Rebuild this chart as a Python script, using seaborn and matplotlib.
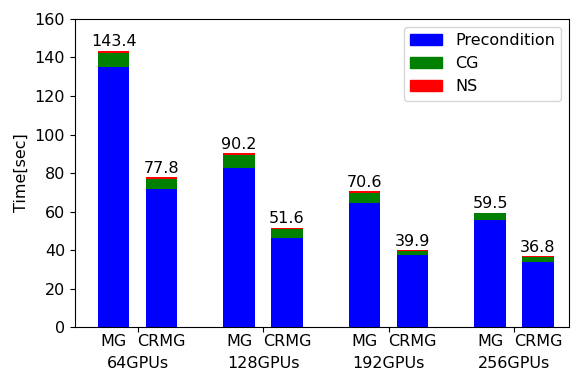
import matplotlib
matplotlib.use("Agg")
import matplotlib.pyplot as plt
from matplotlib.patches import Patch
import seaborn as sns
import pandas as pd
import numpy as np

# Execution time breakdown per solver and GPU count
groups = ["64GPUs", "128GPUs", "192GPUs", "256GPUs"]
methods = ["MG", "CRMG"]
precondition_mg = [135.3, 82.4, 64.6, 55.6]
cg_mg = [7.0, 7.0, 5.2, 3.5]
ns_mg = [1.1, 0.8, 0.8, 0.4]
precondition_crmg = [71.5, 46.1, 37.3, 33.7]
cg_crmg = [5.5, 4.9, 2.4, 2.8]
ns_crmg = [0.8, 0.6, 0.2, 0.3]
totals_mg = [143.4, 90.2, 70.6, 59.5]
totals_crmg = [77.8, 51.6, 39.9, 36.8]

rows = []
for i, g in enumerate(groups):
    rows.append(dict(group=g, method="MG", pre=precondition_mg[i], cg=cg_mg[i],
                     ns=ns_mg[i], total=totals_mg[i]))
    rows.append(dict(group=g, method="CRMG", pre=precondition_crmg[i], cg=cg_crmg[i],
                     ns=ns_crmg[i], total=totals_crmg[i]))
df = pd.DataFrame(rows)
df["pre_cg"] = df["pre"] + df["cg"]

plt.rcParams["font.family"] = ["DejaVu Sans"]
plt.rcParams["font.size"] = 11.5

fig = plt.figure(figsize=(5.71, 3.71), dpi=100)
ax = fig.add_axes([0.131, 0.118, 0.866, 0.831])

layers = [("total", "red"), ("pre_cg", "green"), ("pre", "blue")]
for col, color in layers:
    sns.barplot(data=df, x="group", y=col, hue="method", hue_order=methods,
                order=groups, palette=[color, color], width=0.76, gap=0.34,
                saturation=1, linewidth=0, errorbar=None, legend=False, ax=ax)

# Value labels above each stacked bar
offset = 0.19
for i in range(len(groups)):
    ax.text(i - offset, totals_mg[i] + 0.8, f"{totals_mg[i]:.1f}",
            ha="center", va="bottom", fontsize=11.5)
    ax.text(i + offset, totals_crmg[i] + 0.8, f"{totals_crmg[i]:.1f}",
            ha="center", va="bottom", fontsize=11.5)

ax.set_ylim(0, 160)
ax.set_xlim(-0.5, 3.44)
ax.set_yticks(np.arange(0, 161, 20))
ax.set_ylabel("Time[sec]", fontsize=11.5)
ax.set_xlabel("")

# Group labels on major ticks, method labels on minor ticks
ax.set_xticks(range(len(groups)))
ax.set_xticklabels(groups)
minor_pos = []
minor_lab = []
for i in range(len(groups)):
    minor_pos += [i - offset, i + offset]
    minor_lab += methods
ax.set_xticks(minor_pos, minor=True)
ax.set_xticklabels(minor_lab, minor=True)
ax.tick_params(axis="x", which="major", pad=17.5, labelsize=11.5)
ax.tick_params(axis="x", which="minor", length=0, pad=5, labelsize=11.5)
ax.tick_params(axis="y", labelsize=11.5)
for s in ax.spines.values():
    s.set_visible(True)
    s.set_color("black")

handles = [Patch(color="blue", label="Precondition"),
           Patch(color="green", label="CG"),
           Patch(color="red", label="NS")]
ax.legend(handles=handles, loc="upper right", fontsize=11.5)

fig.savefig("out.png", dpi=100)
